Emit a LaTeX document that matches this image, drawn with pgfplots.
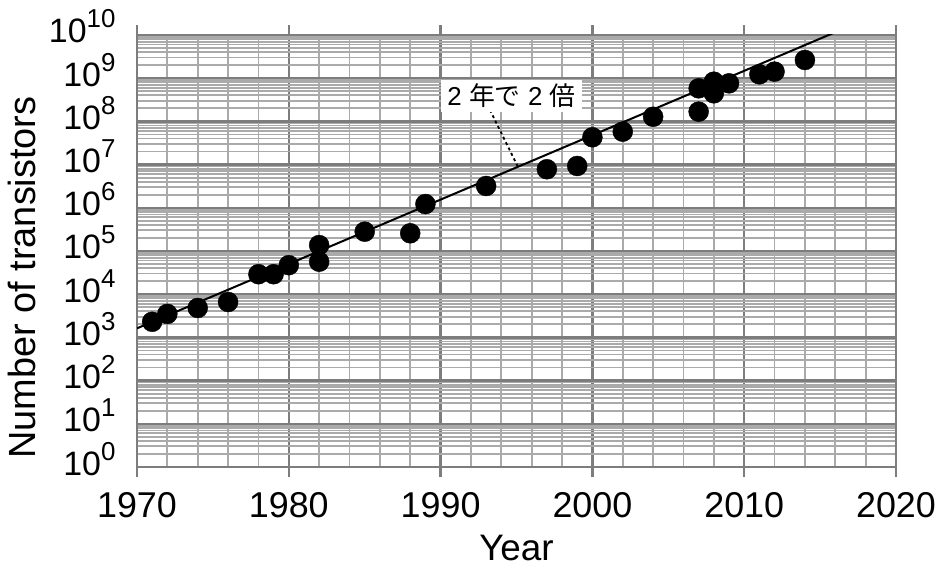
\documentclass[border=0pt]{standalone}
\usepackage{fontspec}
\setmainfont{Liberation Sans}
\newfontfamily\jpfont{Noto Sans CJK JP}
\usepackage{pgfplots}
\pgfplotsset{compat=1.18}
\definecolor{majgrid}{RGB}{125,125,125}
\definecolor{mingrid}{RGB}{170,170,170}
% power-of-ten tick label set in the text font
\newcommand{\pw}[1]{10\raisebox{15bp}{\fontsize{26}{26}\selectfont #1}}

\begin{document}
\begin{tikzpicture}
\begin{axis}[
  at={(137bp,99bp)}, anchor=south west,
  scale only axis, width=759bp, height=432bp,
  xmin=1970, xmax=2020,
  ymode=log, log basis y=10, ymin=1, ymax=1e10,
  xtick={1970,1980,1990,2000,2010,2020},
  xticklabels={1970,1980,1990,2000,2010,2020},
  minor x tick num=4,
  ytick={1,10,100,1000,1e4,1e5,1e6,1e7,1e8,1e9,1e10},
  yticklabels={\pw{0},\pw{1},\pw{2},\pw{3},\pw{4},\pw{5},\pw{6},\pw{7},\pw{8},\pw{9},\pw{10}},
  minor ytick={2,3,4,5,6,7,8,9,
    20,30,40,50,60,70,80,90,
    200,300,400,500,600,700,800,900,
    2e3,3e3,4e3,5e3,6e3,7e3,8e3,9e3,
    2e4,3e4,4e4,5e4,6e4,7e4,8e4,9e4,
    2e5,3e5,4e5,5e5,6e5,7e5,8e5,9e5,
    2e6,3e6,4e6,5e6,6e6,7e6,8e6,9e6,
    2e7,3e7,4e7,5e7,6e7,7e7,8e7,9e7,
    2e8,3e8,4e8,5e8,6e8,7e8,8e8,9e8,
    2e9,3e9,4e9,5e9,6e9,7e9,8e9,9e9},
  grid=both,
  minor grid style={mingrid, line width=1.8bp},
  major grid style={majgrid, line width=2.3bp},
  axis line style={majgrid, line width=2.3bp},
  tick align=outside,
  major tick length=10bp, minor tick length=0pt,
  xtick style={majgrid, line width=2.3bp},
  ytick style={draw=none},
  xticklabel style={font=\fontsize{36}{42}\selectfont, yshift=-12bp},
  yticklabel style={font=\fontsize{34}{40}\selectfont, anchor=base east, yshift=-8bp, xshift=-8bp},
  xlabel={Year},
  xlabel style={at={(axis description cs:0.5,-0.2153)}, anchor=base, inner sep=0pt, font=\fontsize{37}{42}\selectfont},
  ylabel={Number of transistors},
  ylabel style={at={(axis description cs:-0.152,0.4387)}, anchor=center, font=\fontsize{38}{44}\selectfont},
]
% doubling every two years
\addplot[black, line width=2bp] coordinates {(1970,1620) (2016,1.16e10)};
% processors
\addplot[only marks, mark=*, mark size=10bp, black] coordinates {
  (1971,2300) (1972,3500) (1974,4800) (1976,6600)
  (1978,29000) (1979,29000) (1980,47000)
  (1982,137000) (1982,56500) (1985,280000)
  (1988,257000) (1989,1.22e6) (1993,3.2e6)
  (1997,7.8e6) (1999,9.3e6) (2000,4.29e7) (2002,5.78e7)
  (2004,1.28e8) (2007,5.83e8) (2007,1.68e8)
  (2008,8.3e8) (2008,4.47e8) (2009,7.6e8)
  (2011,1.23e9) (2012,1.42e9) (2014,2.64e9)
};
\draw[black, line width=1.8bp, dash pattern=on 3bp off 3bp]
  (axis cs:1993.25,1.84e8) -- (axis cs:1995.1,8.8e6);
\node[fill=white, inner xsep=6bp, inner ysep=0pt, minimum height=32bp,
      font=\fontsize{26}{30}\selectfont]
  at (axis cs:1994.67,3.87e8) {2 {\jpfont 年で} 2 {\jpfont 倍}};
\end{axis}
\pgfresetboundingbox
\useasboundingbox (0,0) rectangle (937bp,566bp);
\end{tikzpicture}
\end{document}
